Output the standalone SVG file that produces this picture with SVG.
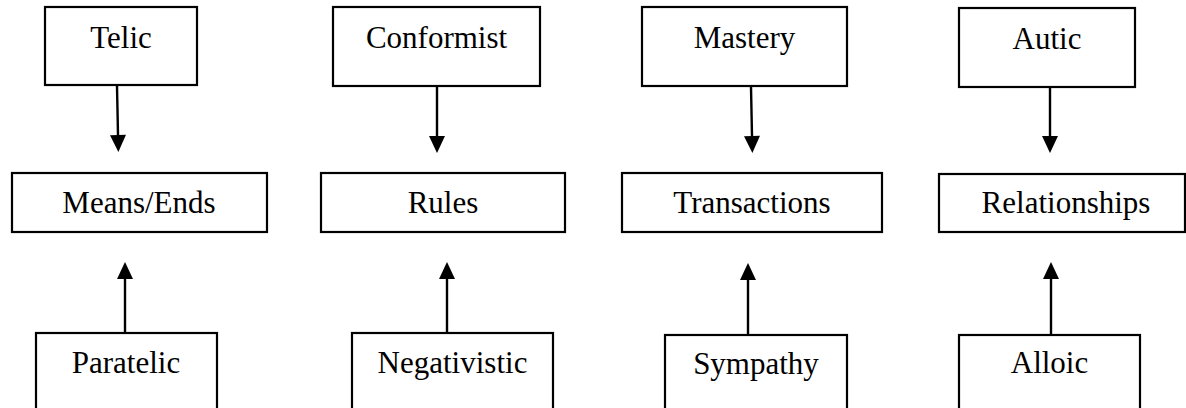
<svg xmlns="http://www.w3.org/2000/svg" width="1186" height="408" viewBox="0 0 1186 408">
<style>
.box{fill:#fff;stroke:#000;stroke-width:2.2}
.lbl{font-family:"Liberation Serif","Times New Roman",serif;font-size:31px;fill:#000;text-anchor:middle}
.conn{stroke:#000;stroke-width:2.4;fill:none;marker-end:url(#ah)}
</style>
<defs>
<marker id="ah" markerUnits="userSpaceOnUse" markerWidth="17" markerHeight="16" refX="0" refY="8" orient="auto" overflow="visible">
<path d="M0,0 L17,8 L0,16 z" fill="#000"/>
</marker>
</defs>
<rect width="1186" height="408" fill="#fff"/>
<g id="telic"><rect class="box" x="45" y="7" width="152" height="78"/><text class="lbl" x="121" y="48">Telic</text></g>
<g id="means-ends"><rect class="box" x="12" y="173" width="255" height="59"/><text class="lbl" x="139" y="213">Means/Ends</text></g>
<g id="paratelic"><rect class="box" x="36" y="333" width="181" height="90"/><text class="lbl" x="126" y="373">Paratelic</text></g>
<g id="conformist"><rect class="box" x="333" y="7" width="207" height="79"/><text class="lbl" x="436.5" y="48">Conformist</text></g>
<g id="rules"><rect class="box" x="321" y="173" width="244" height="59"/><text class="lbl" x="443" y="213">Rules</text></g>
<g id="negativistic"><rect class="box" x="352" y="333" width="201" height="90"/><text class="lbl" x="452.5" y="373">Negativistic</text></g>
<g id="mastery"><rect class="box" x="642" y="7" width="205" height="79"/><text class="lbl" x="744.5" y="48">Mastery</text></g>
<g id="transactions"><rect class="box" x="622" y="173" width="260" height="59"/><text class="lbl" x="752" y="213">Transactions</text></g>
<g id="sympathy"><rect class="box" x="665" y="335" width="182" height="90"/><text class="lbl" x="756" y="374">Sympathy</text></g>
<g id="autic"><rect class="box" x="959" y="8" width="176" height="79"/><text class="lbl" x="1047" y="49">Autic</text></g>
<g id="relationships"><rect class="box" x="939" y="174" width="246" height="58"/><text class="lbl" x="1066" y="213">Relationships</text></g>
<g id="alloic"><rect class="box" x="959" y="335" width="181" height="90"/><text class="lbl" x="1049.5" y="373">Alloic</text></g>
<g id="connectors">
<line class="conn" x1="117" y1="86" x2="118" y2="135"/>
<line class="conn" x1="125" y1="333" x2="125" y2="279"/>
<line class="conn" x1="437" y1="87" x2="437" y2="136"/>
<line class="conn" x1="447" y1="333" x2="447" y2="279"/>
<line class="conn" x1="751" y1="87" x2="752" y2="136"/>
<line class="conn" x1="748" y1="335" x2="748" y2="280"/>
<line class="conn" x1="1050" y1="88" x2="1050" y2="136"/>
<line class="conn" x1="1051" y1="335" x2="1051" y2="279"/>
</g>
</svg>
